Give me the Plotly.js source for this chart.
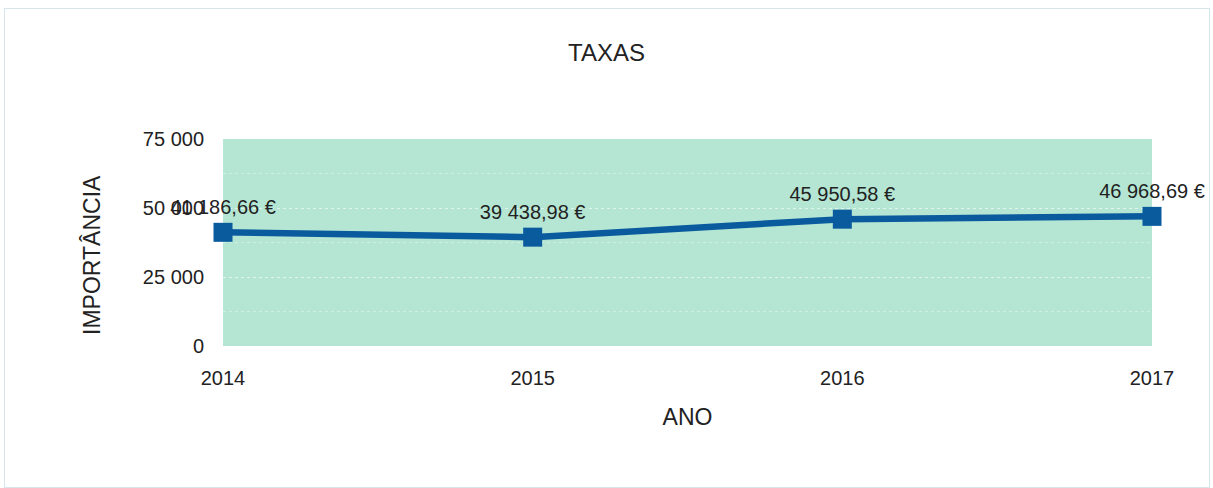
<!DOCTYPE html>
<html>
<head>
<meta charset="utf-8">
<script src="https://cdn.plot.ly/plotly-3.0.1.min.js"></script>
<style>
  html, body { margin: 0; padding: 0; background: #ffffff; }
  #wrap { position: relative; width: 1213px; height: 488px; }
  #chart { width: 1213px; height: 488px; }
  #frame { position: absolute; left: 4px; top: 8px; width: 1204px; height: 478px; border: 1px solid #d6e4ec; pointer-events: none; }
</style>
</head>
<body>
<div id="wrap">
  <div id="chart"></div>
  <div id="frame"></div>
</div>
<script>
const years = [2014, 2015, 2016, 2017];
const amounts = [41186.66, 39438.98, 45950.58, 46968.69];
const yTicks = [0, 25000, 50000, 75000];

const font = "Liberation Sans, Arial, sans-serif";

const trace = {
  x: years,
  y: amounts,
  type: 'scatter',
  mode: 'lines+markers+text',
  line: { color: '#0a5a9e', width: 6.5 },
  marker: { symbol: 'square', size: 19, color: '#0a5a9e' },
  texttemplate: '%{y:,.2f} €',
  textposition: 'top center',
  textfont: { family: font, size: 20, color: '#222222' },
  cliponaxis: false,
  hoverinfo: 'skip'
};

const layout = {
  width: 1213,
  height: 488,
  separators: ', ',
  paper_bgcolor: '#ffffff',
  plot_bgcolor: '#b4e6d3',
  margin: { l: 223, r: 61, t: 139, b: 142 },
  showlegend: false,
  title: { text: 'TAXAS', font: { family: font, size: 24, color: '#222222' }, x: 0.5, xanchor: 'center', y: 0.893, yanchor: 'middle' },
  xaxis: {
    range: [2014, 2017],
    tickvals: years,
    ticktext: years.map(String),
    showgrid: false,
    zeroline: false,
    showline: false,
    ticks: '',
    ticklabelstandoff: 18,
    tickfont: { family: font, size: 20, color: '#222222' },
    title: { text: 'ANO', font: { family: font, size: 23, color: '#222222' }, standoff: 20 }
  },
  yaxis: {
    range: [0, 75000],
    tickvals: yTicks,
    tickformat: ',d',
    showgrid: true,
    gridcolor: 'rgba(255,255,255,0.35)',
    gridwidth: 1,
    griddash: 'dot',
    minor: { dtick: 12500, tick0: 0, showgrid: true, gridcolor: 'rgba(255,255,255,0.35)', griddash: 'dot' },
    zeroline: false,
    showline: false,
    ticks: '',
    ticklabelstandoff: 18,
    tickfont: { family: font, size: 20, color: '#222222' }
  },
  annotations: [{
    text: 'IMPORTÂNCIA',
    xref: 'paper', yref: 'paper',
    x: -0.141, y: 0.44,
    xanchor: 'center', yanchor: 'middle',
    textangle: -90,
    showarrow: false,
    font: { family: font, size: 23, color: '#222222' }
  }]
};

Plotly.newPlot('chart', [trace], layout, { staticPlot: true, displayModeBar: false });
</script>
</body>
</html>
